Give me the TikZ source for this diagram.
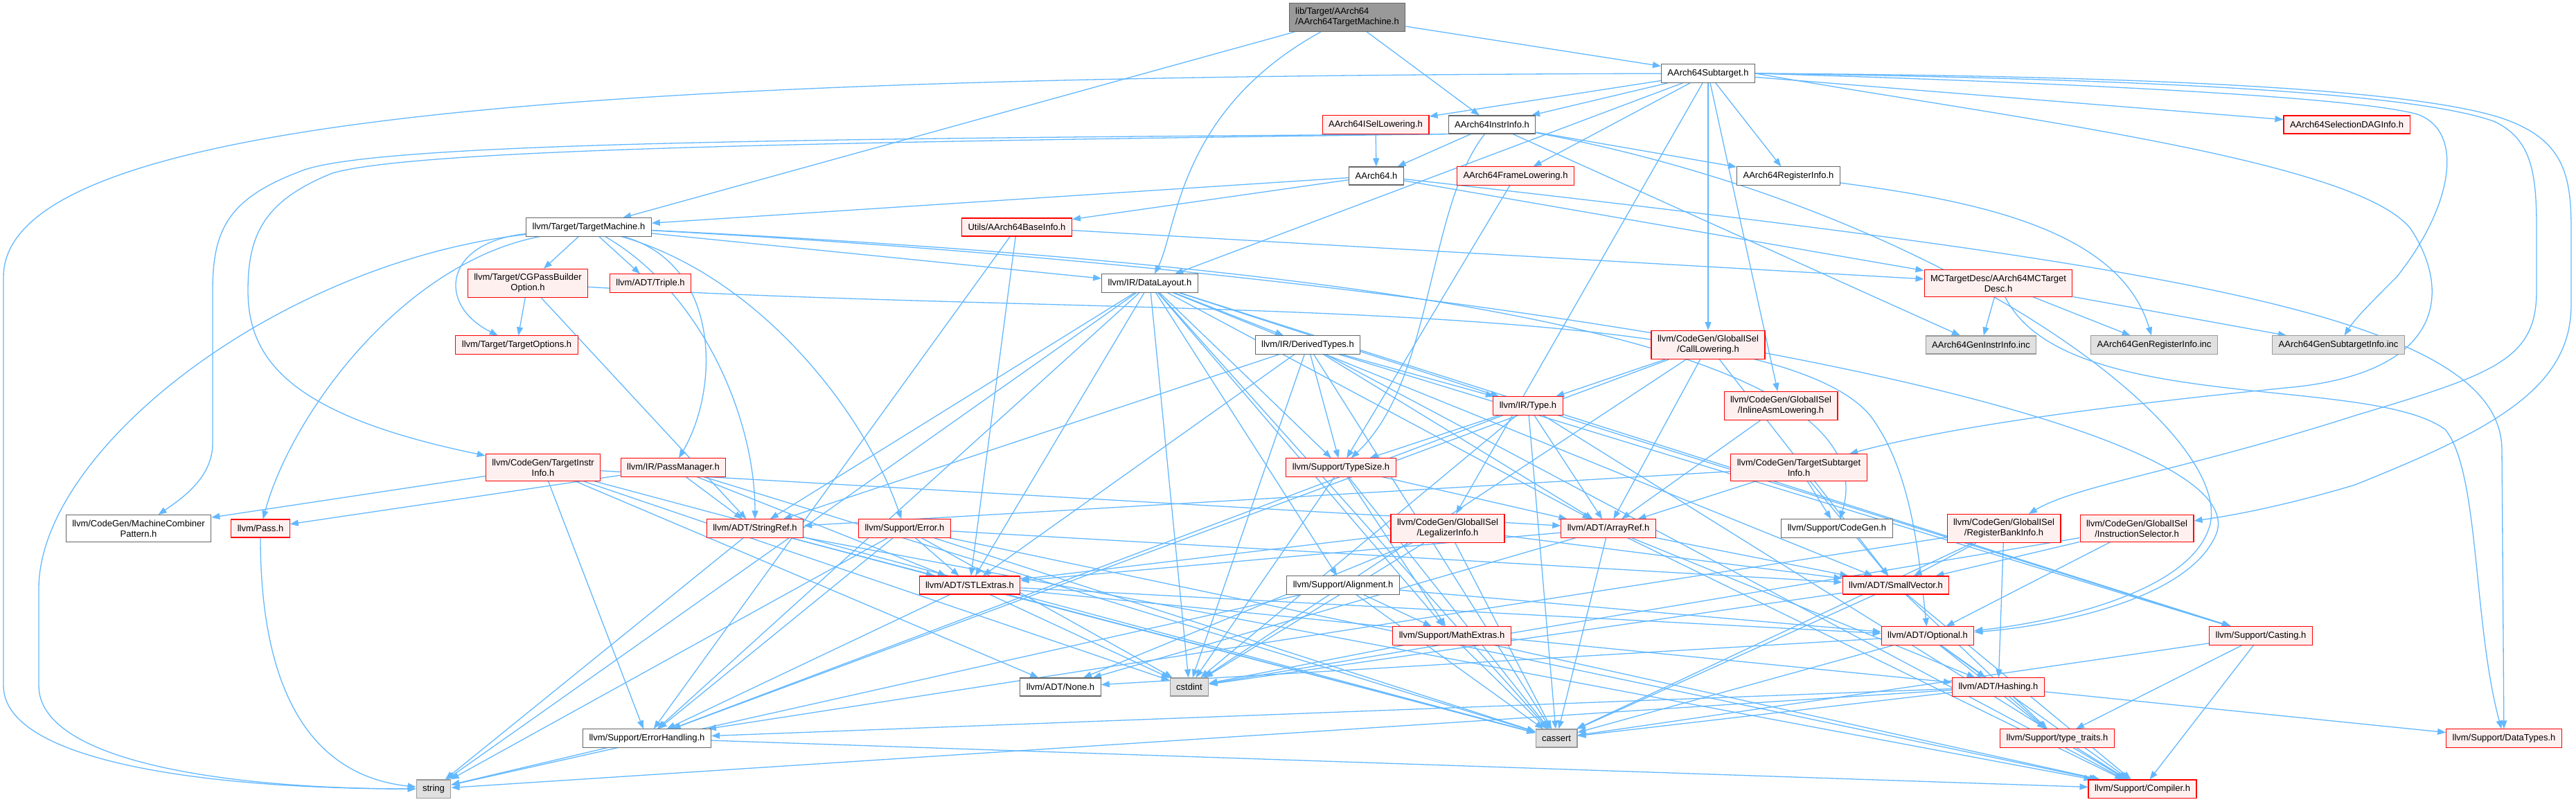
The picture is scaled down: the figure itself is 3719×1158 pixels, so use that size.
\documentclass[tikz,border=0pt]{standalone}
\usepackage{fontspec}
\setmainfont{Liberation Sans}
\usetikzlibrary{arrows.meta}
\definecolor{edgeblue}{HTML}{63B8FF}
\definecolor{redfill}{HTML}{FFF0F0}
\definecolor{sysfill}{HTML}{E0E0E0}
\definecolor{grey40}{HTML}{666666}
\definecolor{grey60}{HTML}{999999}
\pgfdeclarelayer{bg}
\pgfsetlayers{bg,main}
\tikzset{
  filebox/.style={draw=grey40, fill=white, line width=1.1pt, inner xsep=9pt, inner ysep=7pt,
    minimum height=26pt, align=center, font=\fontsize{13}{15}\selectfont},
  redbox/.style={filebox, draw=red, fill=redfill},
  sysbox/.style={filebox, draw=grey60, fill=sysfill},
  rootbox/.style={filebox, fill=grey60, align=left},
  dep/.style={draw=edgeblue, line width=1.3pt, -{Triangle[length=12pt,width=9pt]}}
}
\begin{document}
\begin{tikzpicture}[x=1pt,y=-1pt]
  \useasboundingbox (0,0) rectangle (3719,1158);
  \node[rootbox] (a64tm) at (1945,25) {lib/Target/AArch64\\/AArch64TargetMachine.h};
  \node[filebox] (subtgt) at (2466,106) {AArch64Subtarget.h};
  \node[redbox] (isellow) at (1986,180) {AArch64ISelLowering.h};
  \node[filebox] (instrinfo) at (2154,180) {AArch64InstrInfo.h};
  \node[redbox] (seldag) at (3388,180) {AArch64SelectionDAGInfo.h};
  \node[filebox] (aarch) at (1987,254) {AArch64.h};
  \node[redbox] (framelow) at (2188,254) {AArch64FrameLowering.h};
  \node[filebox] (reginfo) at (2582,254) {AArch64RegisterInfo.h};
  \node[filebox] (tmach) at (850,328) {llvm/Target/TargetMachine.h};
  \node[redbox] (baseinfo) at (1468,328) {Utils/AArch64BaseInfo.h};
  \node[redbox] (cgpass) at (762,409) {llvm/Target/CGPassBuilder\\Option.h};
  \node[redbox] (triple) at (939,409) {llvm/ADT/Triple.h};
  \node[filebox] (datalayout) at (1660,409) {llvm/IR/DataLayout.h};
  \node[redbox] (mcdesc) at (2885,409) {MCTargetDesc/AArch64MCTarget\\Desc.h};
  \node[redbox] (topts) at (746,498) {llvm/Target/TargetOptions.h};
  \node[filebox] (dertypes) at (1888,498) {llvm/IR/DerivedTypes.h};
  \node[redbox] (calllow) at (2466,498) {llvm/CodeGen/GlobalISel\\/CallLowering.h};
  \node[sysbox] (geninstr) at (2860,498) {AArch64GenInstrInfo.inc};
  \node[sysbox] (genreg) at (3110,498) {AArch64GenRegisterInfo.inc};
  \node[sysbox] (gensub) at (3376,498) {AArch64GenSubtargetInfo.inc};
  \node[redbox] (irtype) at (2206,586) {llvm/IR/Type.h};
  \node[redbox] (inlasm) at (2571,586) {llvm/CodeGen/GlobalISel\\/InlineAsmLowering.h};
  \node[redbox] (tinstr) at (784,675) {llvm/CodeGen/TargetInstr\\Info.h};
  \node[redbox] (passmgr) at (972,675) {llvm/IR/PassManager.h};
  \node[redbox] (typesize) at (1936,675) {llvm/Support/TypeSize.h};
  \node[redbox] (tsubinfo) at (2597,675) {llvm/CodeGen/TargetSubtarget\\Info.h};
  \node[filebox] (mcpat) at (200,763) {llvm/CodeGen/MachineCombiner\\Pattern.h};
  \node[redbox] (pass) at (376,763) {llvm/Pass.h};
  \node[redbox] (strref) at (1090,763) {llvm/ADT/StringRef.h};
  \node[redbox] (error) at (1306,763) {llvm/Support/Error.h};
  \node[redbox] (legal) at (2090,763) {llvm/CodeGen/GlobalISel\\/LegalizerInfo.h};
  \node[redbox] (arrayref) at (2322,763) {llvm/ADT/ArrayRef.h};
  \node[filebox] (cgen) at (2652,763) {llvm/Support/CodeGen.h};
  \node[redbox] (rbinfo) at (2893,763) {llvm/CodeGen/GlobalISel\\/RegisterBankInfo.h};
  \node[redbox] (instsel) at (3085,763) {llvm/CodeGen/GlobalISel\\/InstructionSelector.h};
  \node[redbox] (stlext) at (1400,845) {llvm/ADT/STLExtras.h};
  \node[filebox] (align) at (1939,845) {llvm/Support/Alignment.h};
  \node[redbox] (smallvec) at (2737,845) {llvm/ADT/SmallVector.h};
  \node[redbox] (mathext) at (2096,918) {llvm/Support/MathExtras.h};
  \node[redbox] (optional) at (2783,918) {llvm/ADT/Optional.h};
  \node[redbox] (casting) at (3264,918) {llvm/Support/Casting.h};
  \node[filebox] (none) at (1531,992) {llvm/ADT/None.h};
  \node[sysbox] (cstdint) at (1717,992) {cstdint};
  \node[redbox] (hashing) at (2885,992) {llvm/ADT/Hashing.h};
  \node[filebox] (errhand) at (934,1066) {llvm/Support/ErrorHandling.h};
  \node[sysbox] (cassert) at (2247,1066) {cassert};
  \node[redbox] (typetr) at (2970,1066) {llvm/Support/type\_traits.h};
  \node[redbox] (datatypes) at (3615,1066) {llvm/Support/DataTypes.h};
  \node[sysbox] (string) at (626,1139) {string};
  \node[redbox] (compiler) at (3093,1139) {llvm/Support/Compiler.h};
  \begin{pgfonlayer}{bg}
    \foreach \t in {subtgt,instrinfo,tmach} \draw[dep] (a64tm) -- (\t);
    \draw[dep] (a64tm) .. controls (1700,160) and (1700,330) .. (datalayout);
    \foreach \t in {isellow,instrinfo,seldag,framelow,reginfo,calllow,inlasm,legal,datalayout}
      \draw[dep] (subtgt) -- (\t);
    \draw[dep] (subtgt.east) .. controls (3000,120) and (3400,140) .. (3490,165)
      .. controls (3560,190) and (3540,300) .. (3460,400)
      .. controls (3420,440) and (3400,460) .. (gensub);
    \draw[dep] (subtgt.east) .. controls (2900,170) and (3400,230) .. (3480,330)
      .. controls (3540,420) and (3530,540) .. (3300,560)
      .. controls (3000,590) and (2800,620) .. (tsubinfo);
    \draw[dep] (subtgt.east) .. controls (3200,115) and (3500,140) .. (3600,175)
      .. controls (3655,200) and (3662,250) .. (3662,330) -- (3662,420)
      .. controls (3662,520) and (3600,540) .. (3400,600)
      .. controls (3150,680) and (3000,700) .. (rbinfo);
    \draw[dep] (subtgt.east) .. controls (3200,110) and (3500,135) .. (3610,170)
      .. controls (3700,200) and (3712,250) .. (3712,330) -- (3712,440)
      .. controls (3712,560) and (3600,620) .. (3400,700)
      .. controls (3300,730) and (3220,745) .. (instsel);
    \draw[dep] (subtgt) .. controls (1000,110) and (5,150) .. (5,400) -- (5,990)
      .. controls (5,1100) and (300,1139) .. (string);
    \draw[dep] (isellow) -- (aarch);
    \foreach \t in {aarch,reginfo,geninstr} \draw[dep] (instrinfo) -- (\t);
    \draw[dep] (instrinfo) .. controls (2060,300) and (2070,550) .. (typesize);
    \draw[dep] (instrinfo) .. controls (2800,300) and (3230,620) .. (3190,760)
      .. controls (3160,860) and (2950,900) .. (optional);
    \draw[dep] (instrinfo.south west) .. controls (1200,200) and (560,205) .. (440,245)
      .. controls (330,285) and (307,330) .. (307,420) -- (307,640)
      .. controls (307,690) and (262,720) .. (mcpat);
    \draw[dep] (instrinfo.south west) .. controls (1200,205) and (600,215) .. (480,250)
      .. controls (380,290) and (358,340) .. (358,420)
      .. controls (358,520) and (420,600) .. (tinstr);
    \foreach \t in {tmach,baseinfo,mcdesc} \draw[dep] (aarch) -- (\t);
    \draw[dep] (aarch) .. controls (3100,380) and (3612,450) .. (3612,650) -- (datatypes);
    \draw[dep] (framelow) -- (typesize);
    \draw[dep] (reginfo) .. controls (2850,290) and (3060,330) .. (genreg);
    \foreach \t in {cgpass,triple,datalayout} \draw[dep] (tmach) -- (\t);
    \draw[dep] (tmach) .. controls (640,350) and (630,440) .. (topts);
    \draw[dep] (tmach) .. controls (1040,380) and (1040,560) .. (passmgr);
    \draw[dep] (tmach) .. controls (1010,420) and (1090,600) .. (strref);
    \draw[dep] (tmach) .. controls (1100,400) and (1250,600) .. (error);
    \draw[dep] (tmach) .. controls (580,380) and (420,600) .. (pass);
    \draw[dep] (tmach) .. controls (400,380) and (56,650) .. (56,850) -- (56,990)
      .. controls (56,1100) and (330,1139) .. (string);
    \draw[dep] (tmach) .. controls (1900,380) and (2740,480) .. (cgen);
    \draw[dep] (tmach) .. controls (2200,400) and (3260,600) .. (3200,770)
      .. controls (3160,870) and (2950,905) .. (optional);
    \foreach \t in {mcdesc,stlext,errhand} \draw[dep] (baseinfo) -- (\t);
    \foreach \t in {topts,strref} \draw[dep] (cgpass) -- (\t);
    \draw[dep] (cgpass) .. controls (1600,460) and (2550,420) .. (2700,600)
      .. controls (2760,680) and (2770,800) .. (optional);
    \foreach \t in {dertypes,irtype,typesize,align,arrayref,stlext,smallvec,strref,casting,errhand,mathext,cassert,cstdint,string}
      \draw[dep] (datalayout) -- (\t);
    \foreach \t in {geninstr,genreg,gensub} \draw[dep] (mcdesc) -- (\t);
    \draw[dep] (mcdesc) .. controls (2980,600) and (3420,540) .. (3530,620)
      .. controls (3580,680) and (3570,900) .. (datatypes);
    \foreach \t in {arrayref,stlext,strref,irtype,casting,compiler,typesize,cassert,cstdint}
      \draw[dep] (dertypes) -- (\t);
    \foreach \t in {arrayref,smallvec,irtype,errhand,cstdint} \draw[dep] (calllow) -- (\t);
    \foreach \t in {arrayref,casting,compiler,errhand,typesize,cassert,cstdint}
      \draw[dep] (irtype) -- (\t);
    \draw[dep] (inlasm) -- (arrayref);
    \foreach \t in {arrayref,none,mcpat,errhand,cassert,cstdint} \draw[dep] (tinstr) -- (\t);
    \foreach \t in {stlext,strref,pass,cassert} \draw[dep] (passmgr) -- (\t);
    \foreach \t in {arrayref,mathext,cassert,cstdint} \draw[dep] (typesize) -- (\t);
    \foreach \t in {arrayref,smallvec,strref,cgen} \draw[dep] (tsubinfo) -- (\t);
    \draw[dep] (pass) .. controls (376,1000) and (450,1120) .. (string);
    \foreach \t in {stlext,compiler,cassert,string} \draw[dep] (strref) -- (\t);
    \foreach \t in {stlext,smallvec,compiler,errhand,cassert,cstdint,string} \draw[dep] (error) -- (\t);
    \foreach \t in {smallvec,stlext,none,cassert,cstdint} \draw[dep] (legal) -- (\t);
    \foreach \t in {hashing,none,smallvec,stlext,compiler,cassert} \draw[dep] (arrayref) -- (\t);
    \foreach \t in {hashing,smallvec,errhand,cassert} \draw[dep] (rbinfo) -- (\t);
    \foreach \t in {optional,smallvec,cstdint} \draw[dep] (instsel) -- (\t);
    \foreach \t in {hashing,optional,errhand,cassert,cstdint} \draw[dep] (stlext) -- (\t);
    \foreach \t in {optional,mathext,cassert,string} \draw[dep] (align) -- (\t);
    \foreach \t in {compiler,typetr,cassert,cstdint} \draw[dep] (smallvec) -- (\t);
    \foreach \t in {compiler,cassert,cstdint} \draw[dep] (mathext) -- (\t);
    \foreach \t in {hashing,none,compiler,typetr,cassert} \draw[dep] (optional) -- (\t);
    \foreach \t in {cassert,typetr,compiler} \draw[dep] (casting) -- (\t);
    \foreach \t in {datatypes,errhand,typetr,cassert,string} \draw[dep] (hashing) -- (\t);
    \foreach \t in {string,compiler} \draw[dep] (errhand) -- (\t);
    \draw[dep] (typetr) -- (compiler);
  \end{pgfonlayer}
\end{tikzpicture}
\end{document}
